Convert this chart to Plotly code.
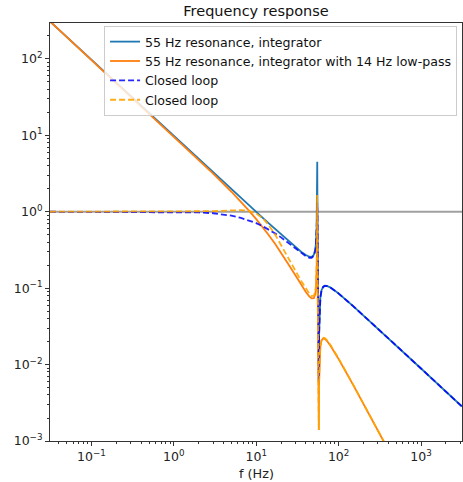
import math
import plotly.graph_objects as go

f_hz = [0.0314, 0.3, 1, 2, 3, 5, 6.5, 8, 10, 12, 14, 17, 20, 25, 30, 35, 40, 44, 47, 50,
        52, 53, 54, 54.5, 54.8, 54.85, 54.9, 54.95, 55, 55.3, 55.6, 56, 56.5, 57, 57.5,
        57.8, 58, 58.5, 59, 60, 62, 65, 68, 72, 80, 100, 150, 200, 300, 400, 500, 1000, 3142]

# |G| : 55 Hz resonance, integrator
open_loop = [309, 32.3, 9.70, 4.85, 3.23, 1.94, 1.494, 1.215, 0.985, 0.83, 0.715, 0.595, 0.51,
             0.41, 0.345, 0.30, 0.272, 0.258, 0.256, 0.273, 0.320, 0.385, 0.585, 0.978,
             2.02, 2.47, 3.12, 3.93, 4.5, 1.15, 0.514, 0.243, 0.107, 0.0396, 0.0059,
             0.0170, 0.0262, 0.0443, 0.0577, 0.0756, 0.0941, 0.1046, 0.1076, 0.1072,
             0.1017, 0.0852, 0.0583, 0.0440, 0.0295, 0.0222, 0.0177, 0.00888, 0.00283]

# |G| : 55 Hz resonance, integrator with 14 Hz low-pass
open_loop_lp = [309, 32.3, 9.68, 4.80, 3.16, 1.827, 1.355, 1.055, 0.80, 0.63, 0.505, 0.378, 0.292,
                0.20, 0.146, 0.111, 0.089, 0.078, 0.0735, 0.0740, 0.0832, 0.0983, 0.147, 0.243,
                0.500, 0.611, 0.770, 0.970, 1.10, 0.282, 0.1255, 0.0589, 0.0257, 0.00945,
                0.00139, 0.00401, 0.00616, 0.0103, 0.0133, 0.0172, 0.0207, 0.0220, 0.0217,
                0.0205, 0.0175, 0.0118, 0.00542, 0.00308, 0.00138, 0.000776, 0.000496,
                0.000124, 0.0000126]

# |G/(1+G)| : closed loop, integrator
closed_loop = [1.0, 0.9995, 0.9948, 0.9794, 0.9553, 0.8889, 0.831, 0.775, 0.71, 0.645, 0.59,
               0.52, 0.462, 0.385, 0.328, 0.288, 0.262, 0.250, 0.249, 0.264, 0.305, 0.363,
               0.527, 0.774, 1.103, 1.168, 1.229, 1.276, 1.30, 0.903, 0.4886, 0.241, 0.107,
               0.0396, 0.0059, 0.0170, 0.0262, 0.0443, 0.0576, 0.0754, 0.0937, 0.1040,
               0.1070, 0.1066, 0.1012, 0.0849, 0.0582, 0.0440, 0.0295, 0.0222, 0.0177,
               0.00888, 0.00282]

# |G/(1+G)| : closed loop, integrator with 14 Hz low-pass
closed_loop_lp = [1.0, 1.0, 1.002, 1.008, 1.017, 1.04, 1.05, 1.03, 0.95, 0.82, 0.68, 0.50,
                  0.37, 0.24, 0.168, 0.125, 0.098, 0.085, 0.0790, 0.0795, 0.0904, 0.1086,
                  0.172, 0.322, 0.964, 1.33, 1.65, 1.21, 0.843, 0.226, 0.1124, 0.0558, 0.0251,
                  0.00937, 0.00139, 0.00402, 0.0062, 0.0104, 0.0135, 0.0175, 0.0212, 0.0225,
                  0.0222, 0.0209, 0.0179, 0.0120, 0.00547, 0.00308, 0.00138, 0.000777,
                  0.000496, 0.000124, 0.0000126]

names = ["55 Hz resonance, integrator",
         "55 Hz resonance, integrator with 14 Hz low-pass",
         "Closed loop", "Closed loop"]

x_range = [0.0314, 3142]
y_range = [1e-3, 295]

x_major = [0.1, 1, 10, 100, 1000]
x_major_text = ["10<sup>−1</sup>", "10<sup>0</sup>", "10<sup>1</sup>", "10<sup>2</sup>", "10<sup>3</sup>"]
y_major = [1e-3, 1e-2, 1e-1, 1, 10, 100]
y_major_text = ["10<sup>−3</sup>", "10<sup>−2</sup>", "10<sup>−1</sup>", "10<sup>0</sup>",
                "10<sup>1</sup>", "10<sup>2</sup>"]


def minor_ticks(lo, hi):
    vals = []
    for e in range(-4, 5):
        for k in range(2, 10):
            v = k * 10.0 ** e
            if lo <= v <= hi:
                vals.append(v)
    return vals


FONT = "DejaVu Sans"
fig = go.Figure()

fig.add_hline(y=1, line=dict(color="rgba(128,128,128,0.75)", width=2.2), layer="below")

fig.add_trace(go.Scatter(x=f_hz, y=open_loop, mode="lines", name=names[0],
                         line=dict(color="#1f77b4", width=1.8)))
fig.add_trace(go.Scatter(x=f_hz, y=open_loop_lp, mode="lines", name=names[1],
                         line=dict(color="#ff7f0e", width=1.8)))
fig.add_trace(go.Scatter(x=f_hz, y=closed_loop, mode="lines", name=names[2],
                         line=dict(color="rgba(0,0,255,0.85)", width=1.8, dash="6px,3px")))
fig.add_trace(go.Scatter(x=f_hz, y=closed_loop_lp, mode="lines", name=names[3],
                         line=dict(color="rgba(255,165,0,0.9)", width=1.8, dash="6px,3px")))

axis_common = dict(
    showline=True, linecolor="#333333", linewidth=1, mirror=True,
    ticks="outside", ticklen=4, tickwidth=1, tickcolor="#333333",
    showgrid=False, zeroline=False,
    tickfont=dict(family=FONT, size=12.5, color="#222222"),
)

fig.update_xaxes(type="log", range=[math.log10(x_range[0]), math.log10(x_range[1])],
                 tickmode="array", tickvals=x_major, ticktext=x_major_text,
                 minor=dict(tickmode="array", tickvals=minor_ticks(*x_range), ticks="outside",
                            ticklen=2.2, tickwidth=0.8, tickcolor="#333333", showgrid=False),
                 **axis_common)
fig.update_yaxes(type="log", range=[math.log10(y_range[0]), math.log10(y_range[1])],
                 tickmode="array", tickvals=y_major, ticktext=y_major_text,
                 minor=dict(tickmode="array", tickvals=minor_ticks(*y_range), ticks="outside",
                            ticklen=2.2, tickwidth=0.8, tickcolor="#333333", showgrid=False),
                 **axis_common)

fig.update_layout(
    width=463, height=482,
    margin=dict(l=50, r=1, t=23, b=41),
    paper_bgcolor="white", plot_bgcolor="white",
    font=dict(family=FONT, color="#222222"),
    title=dict(text="Frequency response", x=0.5, xref="paper", xanchor="center",
               y=1 - 11 / 482, yref="container", yanchor="middle",
               font=dict(family=FONT, size=14.5, color="#111111")),
    legend=dict(x=0.988, y=0.993, xanchor="right", yanchor="top",
                bgcolor="rgba(255,255,255,0.8)", bordercolor="#cccccc", borderwidth=1,
                font=dict(family=FONT, size=12.6, color="#111111"),
                tracegroupgap=0, itemwidth=30),
    showlegend=True,
    annotations=[dict(text="f (Hz)", x=0.5, xref="paper", y=-(473 - 441) / 418, yref="paper",
                      xanchor="center", yanchor="middle", showarrow=False,
                      font=dict(family=FONT, size=12.8, color="#222222"))],
)

fig.write_html("out.html")
